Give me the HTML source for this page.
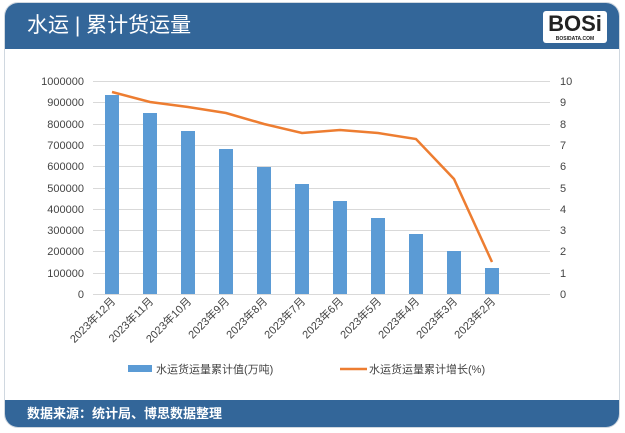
<!DOCTYPE html><html><head><meta charset="utf-8"><style>
body{margin:0;width:625px;height:433px;background:#fff;font-family:"Liberation Sans","Noto Sans CJK SC",sans-serif;overflow:hidden}
.card{position:absolute;left:4px;top:2px;width:616px;height:426px;border-radius:14px;background:#fff;border:1px solid #d0d8e0;overflow:hidden;box-sizing:border-box}
.hd{position:absolute;left:0;top:0;width:100%;height:46px;background:#336699;color:#fff;font-size:21px;line-height:46px;padding-left:22px;box-sizing:border-box}
.ft{position:absolute;left:0;bottom:0;width:100%;height:27px;background:#336699;color:#fff;font-size:13px;line-height:27px;padding-left:22px;box-sizing:border-box;font-weight:bold}
.logo{position:absolute;right:12px;top:8px;width:64px;height:32px;background:#fff;border-radius:3px;color:#222;font-weight:bold;font-size:22px;text-align:center;line-height:26px;font-family:"Liberation Sans",sans-serif}
.logo small{position:absolute;left:0;right:0;bottom:1px;font-size:5px;line-height:6px}
</style></head><body>
<div class="card"><div class="hd">水运 | 累计货运量</div><div class="logo">BOSi<small>BOSIDATA.COM</small></div><div class="ft">数据来源：统计局、博思数据整理</div></div>
<svg width="625" height="433" style="position:absolute;left:0;top:0" font-family="Liberation Sans, Noto Sans CJK SC, sans-serif" font-size="11" fill="#444">
<g stroke="#d9d9d9" stroke-width="1">
<line x1="93" x2="550" y1="81.5" y2="81.5"/><line x1="93" x2="550" y1="102.5" y2="102.5"/><line x1="93" x2="550" y1="124.5" y2="124.5"/><line x1="93" x2="550" y1="145.5" y2="145.5"/><line x1="93" x2="550" y1="166.5" y2="166.5"/><line x1="93" x2="550" y1="188.5" y2="188.5"/><line x1="93" x2="550" y1="209.5" y2="209.5"/><line x1="93" x2="550" y1="230.5" y2="230.5"/><line x1="93" x2="550" y1="251.5" y2="251.5"/><line x1="93" x2="550" y1="273.5" y2="273.5"/><line x1="93" x2="550" y1="294.5" y2="294.5"/>
</g>
<g text-anchor="end">
<text x="84" y="85">1000000</text><text x="84" y="106">900000</text><text x="84" y="128">800000</text><text x="84" y="149">700000</text><text x="84" y="170">600000</text><text x="84" y="192">500000</text><text x="84" y="213">400000</text><text x="84" y="234">300000</text><text x="84" y="255">200000</text><text x="84" y="277">100000</text><text x="84" y="298">0</text>
</g>
<g>
<text x="560" y="85">10</text><text x="560" y="106">9</text><text x="560" y="128">8</text><text x="560" y="149">7</text><text x="560" y="170">6</text><text x="560" y="192">5</text><text x="560" y="213">4</text><text x="560" y="234">3</text><text x="560" y="255">2</text><text x="560" y="277">1</text><text x="560" y="298">0</text>
</g>
<g fill="#5b9bd5">
<rect x="105" y="95" width="14" height="199"/><rect x="143" y="113" width="14" height="181"/><rect x="181" y="131" width="14" height="163"/><rect x="219" y="149" width="14" height="145"/><rect x="257" y="167" width="14" height="127"/><rect x="295" y="184" width="14" height="110"/><rect x="333" y="201" width="14" height="93"/><rect x="371" y="218" width="14" height="76"/><rect x="409" y="234" width="14" height="60"/><rect x="447" y="251" width="14" height="43"/><rect x="485" y="268" width="14" height="26"/>
</g>
<polyline fill="none" stroke="#ed7d31" stroke-width="2.5" points="112,92 150,102 188,107 226,113 264,124 302,133 340,130 378,133 416,139 454,179 492,262"/>
<g font-size="11" text-anchor="end">
<text transform="translate(116,302) rotate(-45)">2023年12月</text><text transform="translate(154,302) rotate(-45)">2023年11月</text><text transform="translate(192,302) rotate(-45)">2023年10月</text><text transform="translate(230,302) rotate(-45)">2023年9月</text><text transform="translate(268,302) rotate(-45)">2023年8月</text><text transform="translate(306,302) rotate(-45)">2023年7月</text><text transform="translate(344,302) rotate(-45)">2023年6月</text><text transform="translate(382,302) rotate(-45)">2023年5月</text><text transform="translate(420,302) rotate(-45)">2023年4月</text><text transform="translate(458,302) rotate(-45)">2023年3月</text><text transform="translate(496,302) rotate(-45)">2023年2月</text>
</g>
<rect x="128" y="365" width="24" height="7" fill="#5b9bd5"/><text x="156" y="373">水运货运量累计值(万吨)</text>
<line x1="340" x2="367" y1="369" y2="369" stroke="#ed7d31" stroke-width="2.5"/><text x="369" y="373">水运货运量累计增长(%)</text>
</svg>
</body></html>
